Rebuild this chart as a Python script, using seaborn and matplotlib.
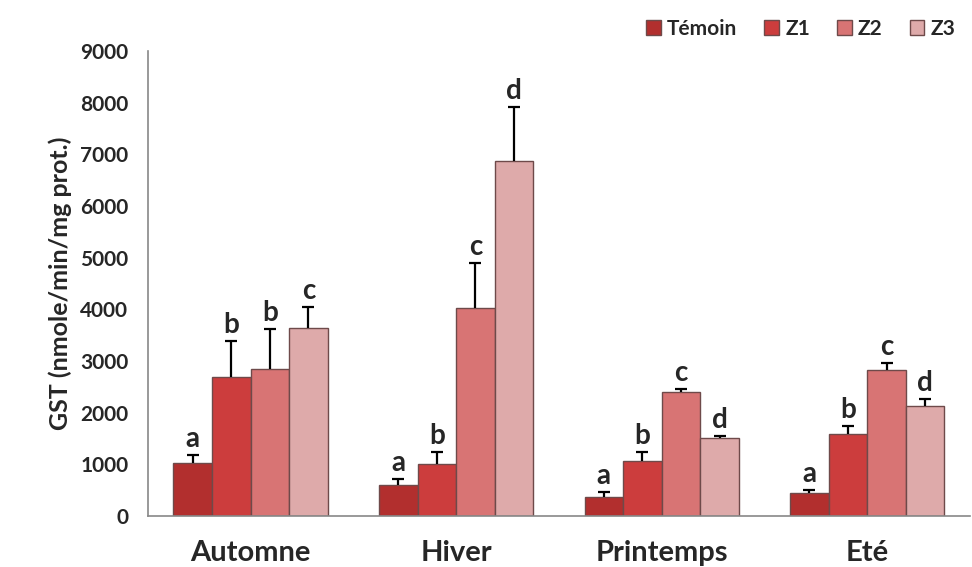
import pandas as pd
import matplotlib.pyplot as plt
import seaborn as sns

# Data
seasons = ['Automne', 'Hiver', 'Printemps', 'Eté']
groups = ['Témoin', 'Z1', 'Z2', 'Z3']
temoin = [1030, 600, 370, 445]
z1 = [2690, 1005, 1060, 1590]
z2 = [2845, 4025, 2400, 2830]
z3 = [3640, 6870, 1510, 2130]
err_temoin = [150, 115, 90, 55]
err_z1 = [700, 235, 180, 150]
err_z2 = [775, 875, 60, 130]
err_z3 = [405, 1045, 40, 130]
letters = {
    'Témoin': ['a', 'a', 'a', 'a'],
    'Z1': ['b', 'b', 'b', 'b'],
    'Z2': ['b', 'c', 'c', 'c'],
    'Z3': ['c', 'd', 'd', 'd'],
}
colors = ['#b22f2e', '#cc3d3d', '#d87474', '#deaaaa']

values = {'Témoin': temoin, 'Z1': z1, 'Z2': z2, 'Z3': z3}
errors = {'Témoin': err_temoin, 'Z1': err_z1, 'Z2': err_z2, 'Z3': err_z3}
df = pd.DataFrame([
    {'Saison': s, 'Groupe': g, 'GST': values[g][i]}
    for g in groups for i, s in enumerate(seasons)
])

sns.set_style('white')
plt.rcParams['font.family'] = ['Lato', 'DejaVu Sans']
plt.rcParams['font.weight'] = 'bold'

fig = plt.figure(figsize=(9.72, 5.67), dpi=100)
ax = fig.add_axes([0.152, 0.09, 0.846, 0.82])

sns.barplot(data=df, x='Saison', y='GST', hue='Groupe', order=seasons,
            hue_order=groups, palette=colors, width=0.75, errorbar=None,
            edgecolor='#6e4a4a', linewidth=1.0, saturation=1, ax=ax)

# Error bars (upper only) and significance letters
for cont, g in zip(ax.containers, groups):
    for i, bar in enumerate(cont):
        x = bar.get_x() + bar.get_width() / 2
        h = bar.get_height()
        e = errors[g][i]
        _, caps, _ = ax.errorbar(x, h, yerr=[[0], [e]], fmt='none', ecolor='black',
                                 elinewidth=1.6, capsize=4.5, capthick=1.6)
        for c in caps:
            if abs(c.get_ydata()[0] - h) < 1:
                c.set_visible(False)
        ax.annotate(letters[g][i], (x, h + e), xytext=(0, 2),
                    textcoords='offset points', ha='center', va='bottom',
                    fontsize=20, fontweight='bold')

ax.set_ylim(0, 9000)
ax.set_xlim(-0.5, 3.5)
ax.set_yticks(range(0, 9001, 1000))
ax.set_yticklabels([str(v) for v in range(0, 9001, 1000)], fontsize=15, fontweight='bold')
ax.set_xticks(range(len(seasons)))
ax.set_xticklabels(seasons, fontsize=21, fontweight='bold')
ax.set_xticks([-0.5, 0.5, 1.5, 2.5, 3.5], minor=True)
ax.tick_params(axis='x', which='major', length=0, pad=17)
ax.tick_params(axis='x', which='minor', length=7, color='#888888', direction='out')
ax.tick_params(axis='y', length=6, color='#888888', direction='out', pad=8)
ax.set_xlabel('')
ax.set_ylabel('GST (nmole/min/mg prot.)', fontsize=18, fontweight='bold', labelpad=6)

for side in ['top', 'right']:
    ax.spines[side].set_visible(False)
for side in ['left', 'bottom']:
    ax.spines[side].set_color('#888888')
    ax.spines[side].set_linewidth(1.2)

ax.legend(loc='upper right', bbox_to_anchor=(1.005, 1.11), ncol=4, frameon=False,
          handlelength=0.7, handleheight=0.7, handletextpad=0.3, columnspacing=1.3,
          prop={'weight': 'bold', 'size': 15})

plt.savefig('out.png', dpi=100)
